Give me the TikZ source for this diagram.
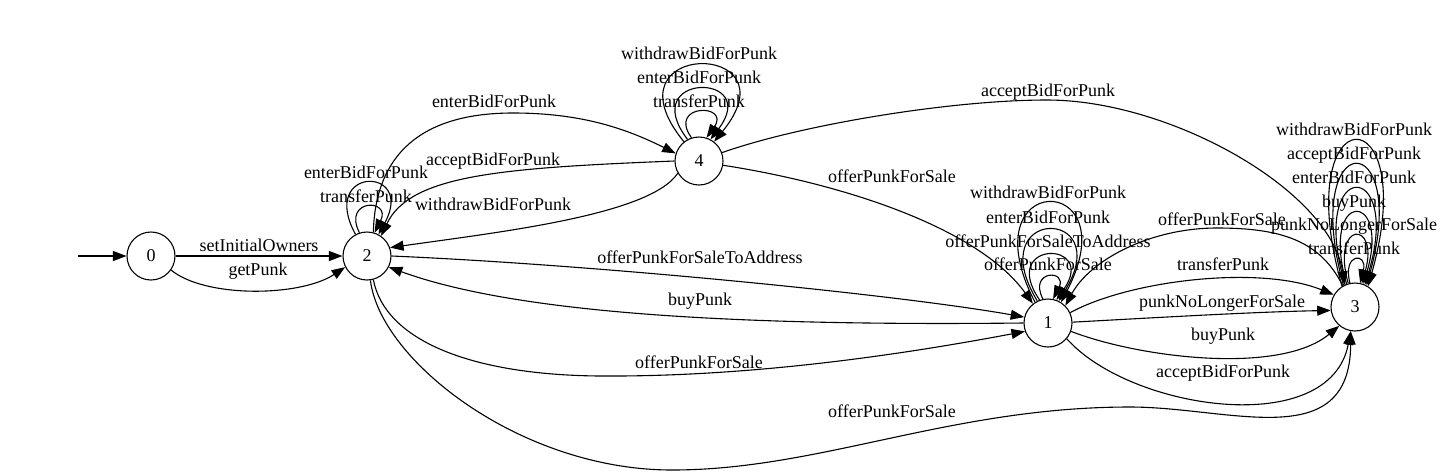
\documentclass[tikz,border=0pt]{standalone}
\usepackage{fontspec}
\setmainfont{Liberation Serif}
\usetikzlibrary{arrows.meta}
\begin{document}
\begin{tikzpicture}[x=1pt,y=-1pt,
  st/.style={circle,draw,line width=1.1pt,minimum size=48pt,inner sep=0pt,font=\fontsize{18}{20}\selectfont},
  tr/.style={draw,line width=1.1pt,-{Triangle[length=13.5pt,width=10pt]}},
  lbl/.style={anchor=base,inner sep=0pt,font=\fontsize{18}{20}\selectfont}]
\useasboundingbox (0,0) rectangle (1443,475);
% states
\node[st] (n0) at (151,256) {0};
\node[st] (n2) at (367,256) {2};
\node[st] (n4) at (699,161) {4};
\node[st] (n1) at (1048,323) {1};
\node[st] (n3) at (1355,307) {3};
\coordinate (start) at (78,256);
% initial
\draw[tr] (start) -- (n0);
% 0 -> 2
\draw[tr] (n0) -- (n2);
\node[lbl] (l02a) at (259,251) {setInitialOwners};
\draw[tr] (n0.-35) .. controls (205,298) and (300,297) .. (n2.-153);
\node[lbl] (l02b) at (258,275) {getPunk};
% 2 loops
\draw[tr] (n2.108) .. controls (342,198.3) and (392,198.3) .. (n2.72);
\node[lbl] (l22a) at (366,202) {transferPunk};
\draw[tr] (n2.118) .. controls (318,165.7) and (416,165.7) .. (n2.62);
\node[lbl] (l22b) at (366,178) {enterBidForPunk};
% 2 -> 4
\draw[tr] (n2.75) .. controls (375,165) and (410,113) .. (513,113) .. controls (580,113) and (625,128) .. (n4.162);
\node[lbl] (l24) at (494,107) {enterBidForPunk};
% 4 -> 2
\draw[tr] (n4.180) .. controls (500,168) and (410,175) .. (n2.55);
\node[lbl] (l42a) at (493,165) {acceptBidForPunk};
\draw[tr] (n4.-150) .. controls (650,215) and (500,232) .. (n2.20);
\node[lbl] (l42b) at (493,210) {withdrawBidForPunk};
% 4 loops
\draw[tr] (n4.108) .. controls (667,103.3) and (731,103.3) .. (n4.72);
\node[lbl] (l44a) at (699,107) {transferPunk};
\draw[tr] (n4.118) .. controls (636,72) and (762,72) .. (n4.62);
\node[lbl] (l44b) at (699,83) {enterBidForPunk};
\draw[tr] (n4.128) .. controls (600,39.3) and (798,39.3) .. (n4.52);
\node[lbl] (l44c) at (699,59) {withdrawBidForPunk};
% 4 -> 3
\draw[tr] (n4.20) .. controls (800,125) and (950,100) .. (1047,100) .. controls (1170,100) and (1330,190) .. (n3.115);
\node[lbl] (l43) at (1048,96) {acceptBidForPunk};
% 4 -> 1
\draw[tr] (n4.-10) .. controls (850,185) and (980,230) .. (n1.128);
\node[lbl] (l41) at (892,182) {offerPunkForSale};
% 2 -> 1
\draw[tr] (n2.0) .. controls (600,265) and (900,295) .. (n1.166);
\node[lbl] (l21a) at (700,263) {offerPunkForSaleToAddress};
% 1 -> 2
\draw[tr] (n1.180) .. controls (750,326) and (520,315) .. (n2.-27);
\node[lbl] (l12) at (700,305) {buyPunk};
% 2 -> 1 lower
\draw[tr] (n2.-75) .. controls (385,340) and (470,375) .. (600,376) .. controls (750,377) and (900,355) .. (n1.200);
\node[lbl] (l21b) at (699,368) {offerPunkForSale};
% 2 -> 3
\draw[tr] (n2.-82) .. controls (380,360) and (520,470) .. (672,470) .. controls (820,470) and (950,407) .. (1130,407) .. controls (1230,407) and (1350,455) .. (n3.-100);
\node[lbl] (l23) at (892,417) {offerPunkForSale};
% 1 loops
\draw[tr] (n1.102) .. controls (1028,269.5) and (1068,269.5) .. (n1.78);
\node[lbl] (l11a) at (1048,270) {offerPunkForSale};
\draw[tr] (n1.110) .. controls (998,239.9) and (1098,239.9) .. (n1.70);
\node[lbl] (l11b) at (1048,247) {offerPunkForSaleToAddress};
\draw[tr] (n1.116) .. controls (980,206.2) and (1116,206.2) .. (n1.64);
\node[lbl] (l11c) at (1048,223) {enterBidForPunk};
\draw[tr] (n1.122) .. controls (966,169.8) and (1130,169.8) .. (n1.58);
\node[lbl] (l11d) at (1048,198) {withdrawBidForPunk};
% 3 -> 1
\draw[tr] (n3.120) .. controls (1320,240) and (1280,228) .. (1217,228) .. controls (1150,228) and (1090,260) .. (n1.45);
\node[lbl] (l31) at (1222,225) {offerPunkForSale};
% 1 -> 3
\draw[tr] (n1.25) .. controls (1130,280) and (1260,265) .. (n3.150);
\node[lbl] (l13a) at (1223,270) {transferPunk};
\draw[tr] (n1.2) .. controls (1150,318) and (1250,312) .. (n3.188);
\node[lbl] (l13b) at (1222,307) {punkNoLongerForSale};
\draw[tr] (n1.-20) .. controls (1140,358) and (1280,375) .. (n3.-130);
\node[lbl] (l13c) at (1223,340) {buyPunk};
\draw[tr] (n1.-40) .. controls (1130,410) and (1330,440) .. (n3.-100);
\node[lbl] (l13d) at (1223,377) {acceptBidForPunk};
% 3 loops
\draw[tr] (n3.102) .. controls (1342,252.2) and (1368,252.2) .. (n3.78);
\node[lbl] (l33a) at (1354,254) {transferPunk};
\draw[tr] (n3.106) .. controls (1330.4,220) and (1379.6,220) .. (n3.74);
\node[lbl] (l33b) at (1354,230) {punkNoLongerForSale};
\draw[tr] (n3.110) .. controls (1319,189.2) and (1391,189.2) .. (n3.70);
\node[lbl] (l33c) at (1354,207) {buyPunk};
\draw[tr] (n3.114) .. controls (1307,157) and (1403,157) .. (n3.66);
\node[lbl] (l33d) at (1354,183) {enterBidForPunk};
\draw[tr] (n3.118) .. controls (1299,124.7) and (1411,124.7) .. (n3.62);
\node[lbl] (l33e) at (1354,159) {acceptBidForPunk};
\draw[tr] (n3.122) .. controls (1287,92.5) and (1423,92.5) .. (n3.58);
\node[lbl] (l33f) at (1354,135) {withdrawBidForPunk};
\end{tikzpicture}
\end{document}
